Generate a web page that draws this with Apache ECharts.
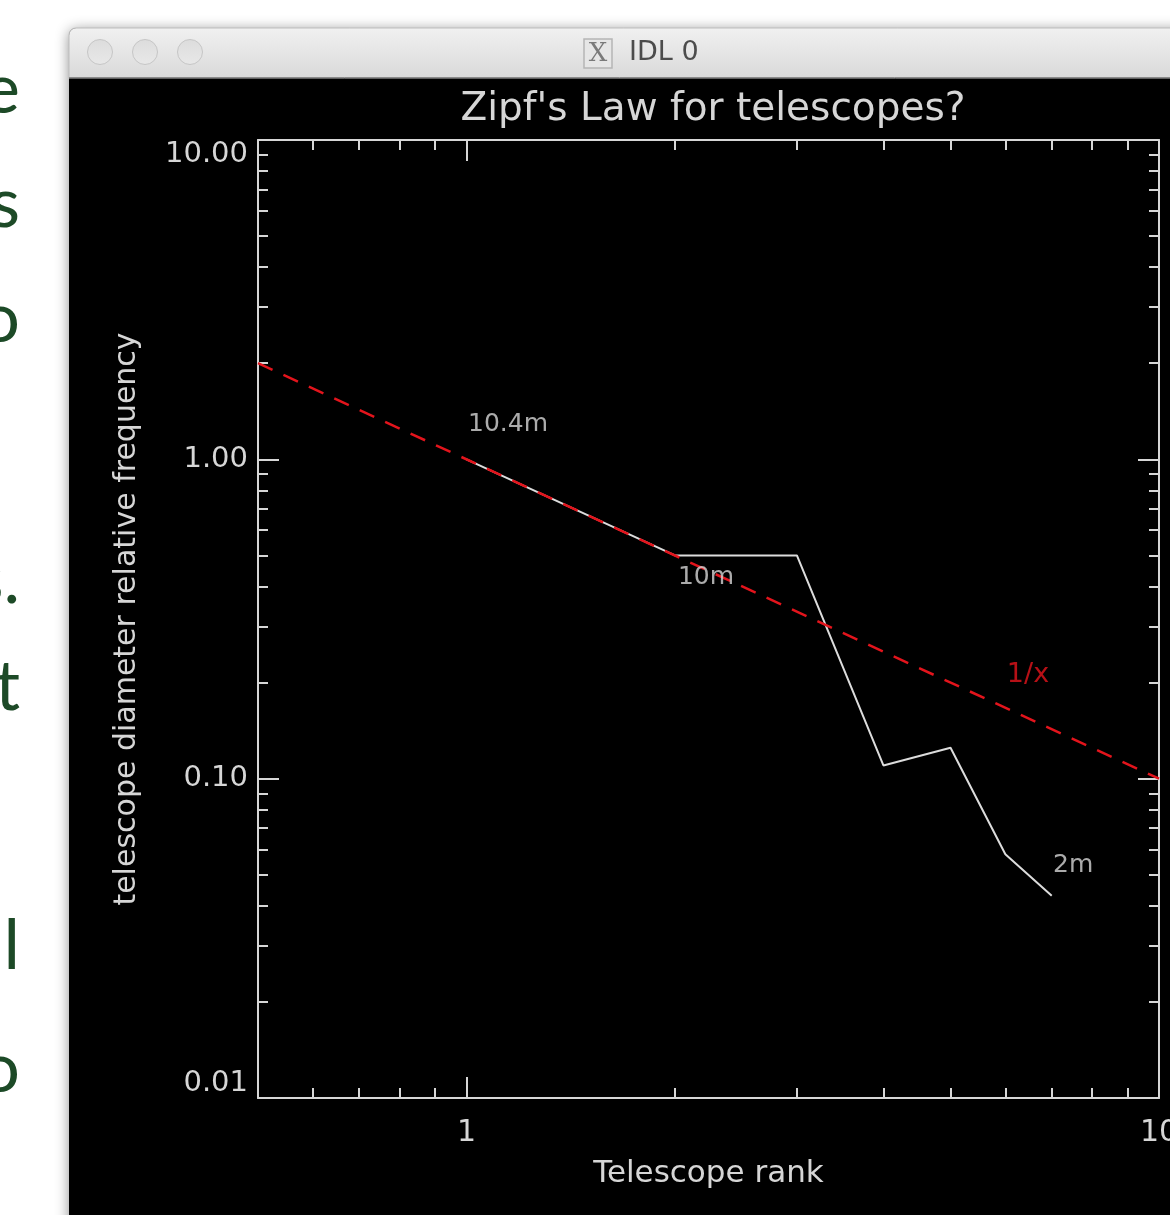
<!DOCTYPE html>
<html>
<head>
<meta charset="utf-8">
<script src="https://cdn.jsdelivr.net/npm/echarts@6/dist/echarts.min.js"></script>
<style>
  html, body { margin: 0; padding: 0; background: #ffffff; overflow: hidden; }
  #chart { width: 1170px; height: 1215px; }
</style>
</head>
<body>
<div id="chart"></div>
<script>
// ---- data ----
const rank = [1, 2, 3, 4, 5, 6, 7];
const relFreq = [1.0, 0.5, 0.5, 0.11, 0.125, 0.058, 0.043];
const zipfX = [0.5, 10];
const zipfY = [2.0, 0.1];
const annotText = ['10.4m', '10m', '2m'];
const annotX = [1.005, 2.02, 7.03];
const annotY = [1.29, 0.428, 0.0536];
const zipfLabelText = ['1/x'];
const zipfLabelX = [6.03];
const zipfLabelY = [0.211];
const xMajorTicks = [1, 10];
const xMinorTicks = [0.6, 0.7, 0.8, 0.9, 2, 3, 4, 5, 6, 7, 8, 9];
const yMajorTicks = [0.01, 0.1, 1, 10];
const yMinorTicks = [0.02, 0.03, 0.04, 0.05, 0.06, 0.07, 0.08, 0.09,
                     0.2, 0.3, 0.4, 0.5, 0.6, 0.7, 0.8, 0.9,
                     2, 3, 4, 5, 6, 7, 8, 9];
const titleText = "Zipf's Law for telescopes?";
const xTitle = 'Telescope rank';
const yTitle = 'telescope diameter relative frequency';
const windowTitle = 'IDL 0';
const pageFragments = ['e', 's', 'o', 's.', 't', 'l', 'o'];
const fragmentY = [90, 204, 319, 580, 687, 946, 1069];

// ---- style ----
const FG = '#d6d6d6';
const FONT = '"DejaVu Sans", sans-serif';
const gridRect = { left: 258, top: 140, right: 11, bottom: 117 };

function xAxisCfg(gridIndex, pos, ticks, len, showLine, showLabel, extra) {
  return Object.assign({
    type: 'log', logBase: 10, min: 0.5, max: 10, gridIndex: gridIndex, position: pos,
    axisLine: { show: showLine, lineStyle: { color: FG, width: 2 } },
    axisTick: { show: true, inside: true, length: len, customValues: ticks,
                lineStyle: { color: FG, width: 2 } },
    axisLabel: { show: showLabel },
    splitLine: { show: false }, minorTick: { show: false }, minorSplitLine: { show: false }
  }, extra || {});
}
function yAxisCfg(gridIndex, pos, ticks, len, showLine, showLabel, extra) {
  return Object.assign({
    type: 'log', logBase: 10, min: 0.01, max: 10, gridIndex: gridIndex, position: pos,
    axisLine: { show: showLine, lineStyle: { color: FG, width: 2 } },
    axisTick: { show: true, inside: true, length: len, customValues: ticks,
                lineStyle: { color: FG, width: 2 } },
    axisLabel: { show: showLabel },
    splitLine: { show: false }, minorTick: { show: false }, minorSplitLine: { show: false }
  }, extra || {});
}

const graphics = [];
// page text fragments on the left
pageFragments.forEach((t, i) => {
  graphics.push({ type: 'text', z: -20, x: 20, y: fragmentY[i],
    style: { text: t, fill: '#1d4a27', font: '400 70px Lato, "Open Sans", sans-serif',
             textAlign: 'right', textVerticalAlign: 'middle' } });
});
// window body with shadow
graphics.push({ type: 'rect', z: -15, shape: { x: 69, y: 28, width: 1130, height: 1230, r: [7, 7, 0, 0] },
  style: { fill: '#000000', shadowBlur: 14, shadowColor: 'rgba(0,0,0,0.45)', shadowOffsetY: 2 } });
// title bar
graphics.push({ type: 'rect', z: -14, shape: { x: 69, y: 28, width: 1130, height: 50, r: [7, 7, 0, 0] },
  style: { fill: { type: 'linear', x: 0, y: 0, x2: 0, y2: 1,
    colorStops: [{ offset: 0, color: '#f1f1f1' }, { offset: 1, color: '#d9d9d9' }] },
    stroke: '#bdbdbd', lineWidth: 1 } });
graphics.push({ type: 'line', z: -13, shape: { x1: 69, y1: 77.5, x2: 1170, y2: 77.5 },
  style: { stroke: '#8a8a8a', lineWidth: 1 } });
[100, 145, 190].forEach(cx => {
  graphics.push({ type: 'circle', z: -13, shape: { cx: cx, cy: 52, r: 12.5 },
    style: { fill: { type: 'linear', x: 0, y: 0, x2: 0, y2: 1,
      colorStops: [{ offset: 0, color: '#dcdcdc' }, { offset: 1, color: '#e8e8e8' }] },
      stroke: '#c6c6c6', lineWidth: 1 } });
});
// X icon
graphics.push({ type: 'rect', z: -13, shape: { x: 584, y: 39, width: 28, height: 29 },
  style: { fill: '#e6e6e6', stroke: '#b5b5b5', lineWidth: 1.5 } });
graphics.push({ type: 'text', z: -12, x: 598, y: 54,
  style: { text: 'X', fill: '#7a7a7a', font: '26px "DejaVu Serif", serif',
           textAlign: 'center', textVerticalAlign: 'middle' } });
graphics.push({ type: 'text', z: -12, x: 629, y: 53,
  style: { text: windowTitle, fill: '#4c4c4c', font: '27px "DejaVu Sans", sans-serif',
           textAlign: 'left', textVerticalAlign: 'middle' } });

const option = {
  backgroundColor: '#ffffff',
  animation: false,
  title: {
    text: titleText, left: 708, top: 85, textAlign: 'center',
    textStyle: { color: FG, fontFamily: FONT, fontWeight: 'normal', fontSize: 39 }
  },
  graphic: graphics,
  grid: [
    Object.assign({ containLabel: false, outerBoundsMode: 'none' }, gridRect),
    Object.assign({ containLabel: false, outerBoundsMode: 'none' }, gridRect)
  ],
  xAxis: [
    xAxisCfg(0, 'bottom', xMajorTicks, 21, true, true, {
      name: xTitle, nameLocation: 'middle', nameGap: 60,
      nameTextStyle: { color: FG, fontFamily: FONT, fontSize: 31 },
      axisLabel: { show: true, customValues: xMajorTicks, color: FG, fontFamily: FONT,
                   fontSize: 30, margin: 20, formatter: v => String(v) }
    }),
    xAxisCfg(0, 'top', xMajorTicks, 21, true, false),
    xAxisCfg(1, 'bottom', xMinorTicks, 10, false, false),
    xAxisCfg(1, 'top', xMinorTicks, 10, false, false)
  ],
  yAxis: [
    yAxisCfg(0, 'left', yMajorTicks, 21, true, true, {
      name: yTitle, nameLocation: 'middle', nameGap: 116, nameRotate: 90,
      nameTextStyle: { color: FG, fontFamily: FONT, fontSize: 30 },
      axisLabel: { show: true, customValues: yMajorTicks, color: FG, fontFamily: FONT,
                   fontSize: 29, margin: 10, formatter: v => Number(v).toFixed(2),
                   verticalAlignMaxLabel: 'top', verticalAlignMinLabel: 'bottom' }
    }),
    yAxisCfg(0, 'right', yMajorTicks, 21, true, false),
    yAxisCfg(1, 'left', yMinorTicks, 10, false, false),
    yAxisCfg(1, 'right', yMinorTicks, 10, false, false)
  ],
  series: [
    {
      type: 'line', xAxisIndex: 0, yAxisIndex: 0, symbol: 'none', z: 3,
      data: rank.map((r, i) => [r, relFreq[i]]),
      lineStyle: { color: '#dcdcdc', width: 2 }
    },
    {
      type: 'line', xAxisIndex: 0, yAxisIndex: 0, symbol: 'none', z: 4,
      data: zipfX.map((x, i) => [x, zipfY[i]]),
      lineStyle: { color: '#e3141c', width: 2.5, type: [16, 12] }
    },
    {
      type: 'scatter', xAxisIndex: 0, yAxisIndex: 0, symbolSize: 0, z: 5, silent: true,
      data: annotX.map((x, i) => ({ name: annotText[i], value: [x, annotY[i]] })),
      label: { show: true, position: 'right', distance: 0, formatter: '{b}',
               color: FG, fontFamily: FONT, fontSize: 25 }
    },
    {
      type: 'scatter', xAxisIndex: 0, yAxisIndex: 0, symbolSize: 0, z: 5, silent: true,
      data: zipfLabelX.map((x, i) => ({ name: zipfLabelText[i], value: [x, zipfLabelY[i]] })),
      label: { show: true, position: 'right', distance: 0, formatter: '{b}',
               color: '#e3141c', fontFamily: FONT, fontSize: 27 }
    }
  ]
};

const chart = echarts.init(document.getElementById('chart'), null, { renderer: 'canvas' });
chart.setOption(option);
</script>
</body>
</html>
